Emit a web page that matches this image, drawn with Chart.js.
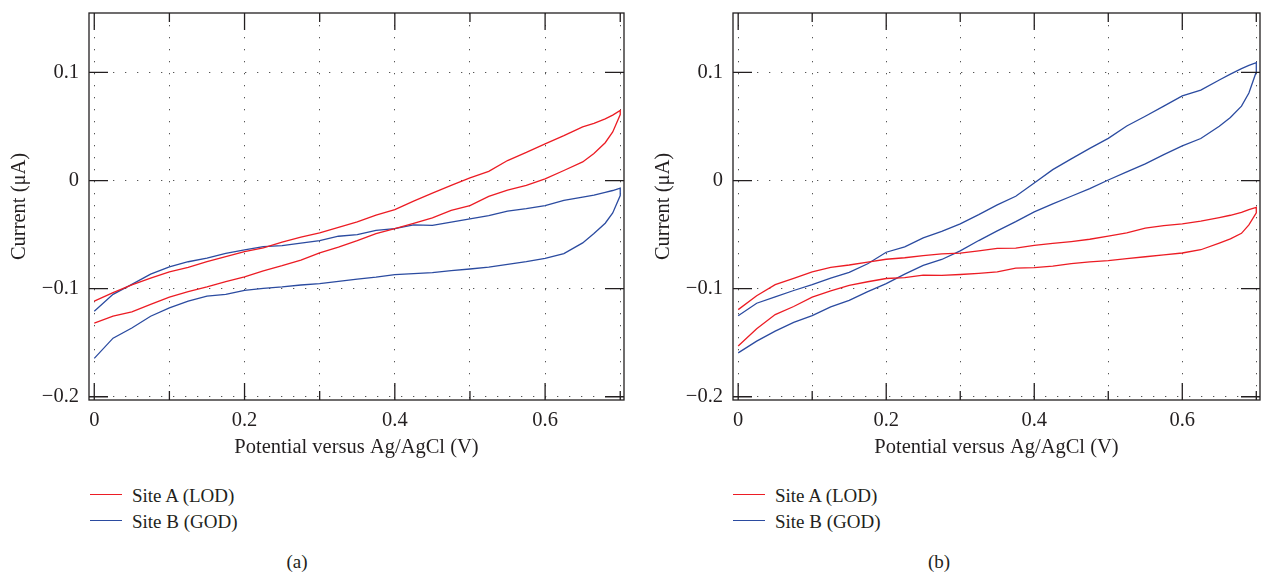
<!DOCTYPE html>
<html>
<head>
<meta charset="utf-8">
<script src="https://cdn.jsdelivr.net/npm/chart.js@4.4.0/dist/chart.umd.min.js"></script>
<style>
  body { margin: 0; background: #fff; }
  #page { position: relative; width: 1261px; height: 572px; overflow: hidden;
          font-family: 'Liberation Serif', 'Times New Roman', serif; color: #231f20; }
  .panel { position: absolute; top: 0; }
  .legend { position: absolute; top: 483px; font-size: 19px; }
  .legend .row { position: relative; height: 26px; line-height: 26px; white-space: nowrap; padding-left: 42px; }
  .legend .swatch { position: absolute; left: 0; top: 11px; width: 32px; height: 1.4px; }
  .caption { position: absolute; top: 549px; width: 100px; text-align: center;
             font-size: 19px; line-height: 26px; }
</style>
</head>
<body>
<div id="page">
  <div class="panel" style="left:0"><canvas id="chartA" width="630" height="470"></canvas></div>
  <div class="panel" style="left:644px"><canvas id="chartB" width="617" height="470"></canvas></div>
  <div class="legend" id="legendA" style="left:90px"></div>
  <div class="legend" id="legendB" style="left:733px"></div>
  <div class="caption" style="left:247px">(a)</div>
  <div class="caption" style="left:889px">(b)</div>
</div>
<script>
// potential grid (V) shared by every branch
const potential = [0, 0.025, 0.05, 0.075, 0.1, 0.125, 0.15, 0.175, 0.2, 0.225, 0.25, 0.275, 0.3, 0.325, 0.35,
  0.375, 0.4, 0.425, 0.45, 0.475, 0.5, 0.525, 0.55, 0.575, 0.6, 0.625, 0.65, 0.665, 0.68, 0.69, 0.7];

// panel (a) currents, uA  (Fwd = anodic sweep, Rev = return sweep, both listed by rising potential)
const aLodFwd = [-0.1115, -0.1037, -0.0966, -0.0903, -0.0844, -0.0804, -0.0751, -0.0704, -0.0657, -0.0623, -0.057,
  -0.0523, -0.0483, -0.0432, -0.0383, -0.032, -0.0269, -0.019, -0.0117, -0.0045, 0.0025, 0.0085, 0.0185, 0.026,
  0.034, 0.0415, 0.0496, 0.053, 0.057, 0.0605, 0.0648];
const aLodRev = [-0.1318, -0.1255, -0.1215, -0.1146, -0.1078, -0.1028, -0.0984, -0.0935, -0.0891, -0.0835, -0.0788,
  -0.0735, -0.067, -0.0615, -0.0555, -0.049, -0.0445, -0.0395, -0.0345, -0.0275, -0.0231, -0.0146, -0.0088, -0.0045,
  0.0015, 0.0093, 0.0172, 0.025, 0.035, 0.045, 0.0611];
const aGodFwd = [-0.1209, -0.1053, -0.096, -0.0866, -0.0798, -0.0751, -0.0717, -0.0673, -0.0642, -0.0611, -0.0601,
  -0.0579, -0.0555, -0.0515, -0.05, -0.046, -0.0445, -0.041, -0.0415, -0.0385, -0.0355, -0.0324, -0.0282, -0.026,
  -0.0231, -0.0183, -0.0154, -0.0135, -0.011, -0.0092, -0.0071];
const aGodRev = [-0.1645, -0.1458, -0.1364, -0.1255, -0.1178, -0.1115, -0.1069, -0.1053, -0.1016, -0.0997, -0.0984,
  -0.0966, -0.0953, -0.0932, -0.0912, -0.0894, -0.087, -0.0861, -0.0851, -0.0834, -0.0818, -0.0801, -0.0776, -0.075,
  -0.0719, -0.0675, -0.0577, -0.049, -0.0395, -0.03, -0.0139];

// panel (b) currents, uA
const bLodFwd = [-0.1194, -0.1065, -0.0963, -0.0904, -0.0844, -0.0803, -0.0781, -0.0754, -0.0728, -0.0714, -0.0694,
  -0.0679, -0.0672, -0.065, -0.0628, -0.0625, -0.06, -0.0582, -0.0564, -0.0543, -0.0515, -0.0485, -0.0441, -0.0417,
  -0.04, -0.0376, -0.0342, -0.0321, -0.0295, -0.0268, -0.0247];
const bLodRev = [-0.1531, -0.137, -0.124, -0.1165, -0.1078, -0.102, -0.0969, -0.0936, -0.0906, -0.0898, -0.0875,
  -0.0878, -0.0869, -0.0858, -0.0844, -0.081, -0.0805, -0.0791, -0.0768, -0.0752, -0.0741, -0.0722, -0.0705, -0.0688,
  -0.067, -0.064, -0.0578, -0.054, -0.0488, -0.041, -0.0299];
const bGodFwd = [-0.125, -0.1135, -0.1077, -0.1017, -0.0963, -0.0902, -0.085, -0.077, -0.0663, -0.0613, -0.053,
  -0.0471, -0.04, -0.0315, -0.0225, -0.0145, -0.0022, 0.0101, 0.02, 0.0298, 0.039, 0.0505, 0.0595, 0.0689,
  0.0783, 0.0836, 0.093, 0.0985, 0.1036, 0.1065, 0.109];
const bGodRev = [-0.1594, -0.1485, -0.1393, -0.1312, -0.125, -0.1168, -0.1109, -0.1028, -0.0953, -0.0865, -0.0785,
  -0.073, -0.065, -0.0555, -0.0465, -0.038, -0.029, -0.0215, -0.0145, -0.0075, 0.0005, 0.008, 0.0155, 0.024,
  0.032, 0.0389, 0.0502, 0.0583, 0.0688, 0.081, 0.1006];

const seriesNames = ['Site A (LOD)', 'Site B (GOD)'];
const seriesColors = ['#ec1c24', '#2b4ba0'];

const xTicks = [0, 0.1, 0.2, 0.3, 0.4, 0.5, 0.6, 0.7];
const xTickLabels = ['0', '', '0.2', '', '0.4', '', '0.6', ''];
const yTicks = [-0.2, -0.1, 0, 0.1];
const yTickLabels = ['\u22120.2', '\u22120.1', '0', '0.1'];

Chart.defaults.font.family = "'Liberation Serif', 'Times New Roman', serif";
Chart.defaults.font.size = 20.5;
Chart.defaults.color = '#231f20';

// forward sweep then back along the return sweep
function loop(fwd, rev) {
  var pts = potential.map(function(v, i) { return {x: v, y: fwd[i]}; });
  var back = potential.map(function(v, i) { return {x: v, y: rev[i]}; }).reverse();
  return pts.concat(back);
}

// box round the plot with ticks pointing inwards on all four sides
const frameTicks = {
  id: 'frameTicks',
  afterDraw(chart) {
    const {ctx, chartArea: a, scales: {x, y}} = chart;
    ctx.save();
    ctx.strokeStyle = '#231f20';
    ctx.lineWidth = 1.3;
    ctx.strokeRect(a.left, a.top, a.right - a.left, a.bottom - a.top);
    ctx.beginPath();
    xTicks.forEach(function(v, i) {
      const px = x.getPixelForValue(v);
      const len = xTickLabels[i] ? 17 : 9;
      ctx.moveTo(px, a.bottom); ctx.lineTo(px, a.bottom - len);
      ctx.moveTo(px, a.top); ctx.lineTo(px, a.top + len);
    });
    yTicks.forEach(function(v) {
      const py = y.getPixelForValue(v);
      ctx.moveTo(a.left, py); ctx.lineTo(a.left + 19, py);
      ctx.moveTo(a.right, py); ctx.lineTo(a.right - 19, py);
    });
    ctx.stroke();
    ctx.restore();
  }
};

function makeChart(id, lod, god, rightPad) {
  return new Chart(document.getElementById(id), {
    type: 'scatter',
    data: {
      datasets: [
        {label: seriesNames[0], data: loop(lod[0], lod[1]), borderColor: seriesColors[0]},
        {label: seriesNames[1], data: loop(god[0], god[1]), borderColor: seriesColors[1]}
      ]
    },
    options: {
      responsive: false,
      animation: false,
      showLine: true,
      elements: {
        point: {radius: 0},
        line: {borderWidth: 1.3, tension: 0, fill: false}
      },
      layout: {padding: {top: 13, right: rightPad, left: 0, bottom: 0}},
      plugins: {legend: {display: false}, tooltip: {enabled: false}},
      scales: {
        x: {
          type: 'linear', min: -0.007, max: 0.705,
          afterBuildTicks: function(s) { s.ticks = xTicks.map(function(v) { return {value: v}; }); },
          afterFit: function(s) { s.height = 70; s.paddingLeft = 0; s.paddingRight = 0; },
          ticks: {
            padding: 8, maxRotation: 0, autoSkip: false,
            callback: function(v, i) { return xTickLabels[i]; }
          },
          grid: {color: '#555', lineWidth: 1, drawTicks: false},
          border: {display: false, dash: [1.3, 10.7]},
          title: {display: true, text: 'Potential versus Ag/AgCl (V)', padding: {top: 0, bottom: 10}}
        },
        y: {
          type: 'linear', min: -0.203, max: 0.155,
          afterBuildTicks: function(s) { s.ticks = yTicks.map(function(v) { return {value: v}; }); },
          afterFit: function(s) { s.width = 89; s.paddingTop = 0; s.paddingBottom = 0; },
          ticks: {
            padding: 10, autoSkip: false,
            callback: function(v, i) { return yTickLabels[i]; }
          },
          grid: {color: '#555', lineWidth: 1, drawTicks: false},
          border: {display: false, dash: [1.3, 10.7]},
          title: {display: true, text: 'Current (\u03bcA)', padding: {top: 7, bottom: 0}}
        }
      }
    },
    plugins: [frameTicks]
  });
}

// legend rows under each panel, taken from the chart's own datasets
function buildLegend(chart, elId) {
  var el = document.getElementById(elId);
  chart.data.datasets.forEach(function(ds, i) {
    var row = document.createElement('div');
    row.className = 'row';
    var sw = document.createElement('span');
    sw.className = 'swatch';
    sw.style.backgroundColor = seriesColors[i];
    row.appendChild(sw);
    row.appendChild(document.createTextNode(ds.label));
    el.appendChild(row);
  });
}

const chartA = makeChart('chartA', [aLodFwd, aLodRev], [aGodFwd, aGodRev], 6);
const chartB = makeChart('chartB', [bLodFwd, bLodRev], [bGodFwd, bGodRev], 1);
buildLegend(chartA, 'legendA');
buildLegend(chartB, 'legendB');
</script>
</body>
</html>
